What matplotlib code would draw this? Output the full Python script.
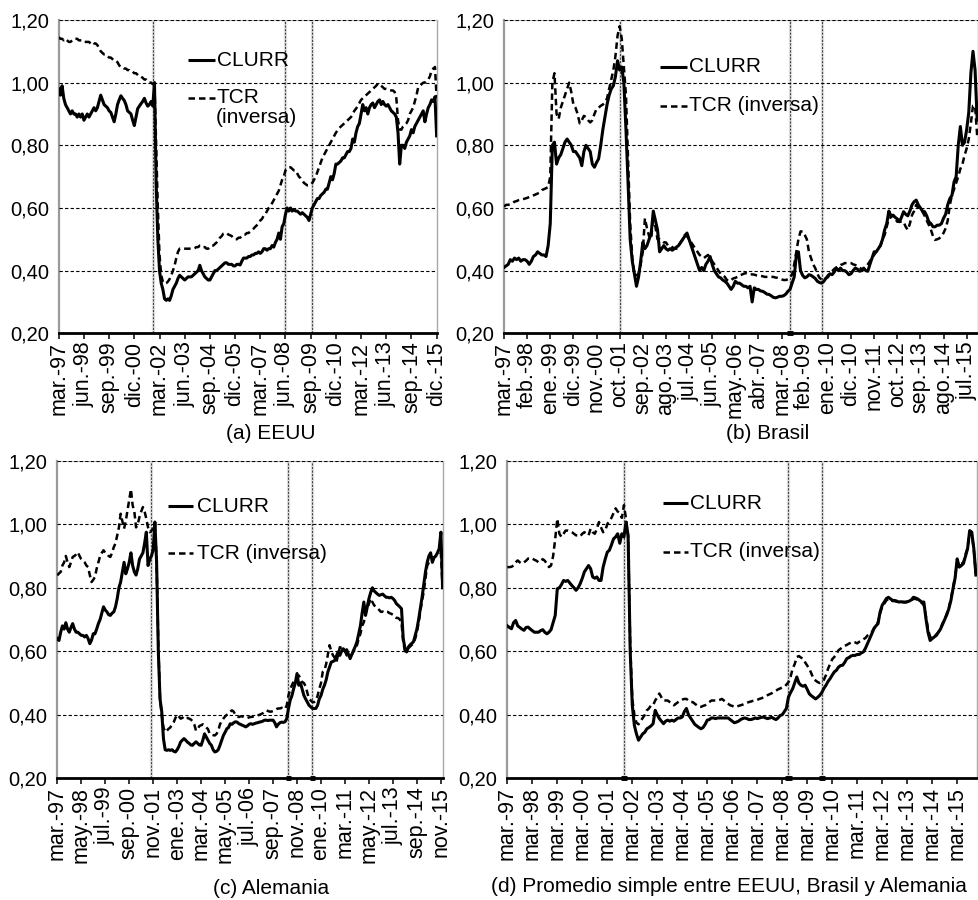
import numpy as np
import matplotlib
matplotlib.use("Agg")
import matplotlib.pyplot as plt

plt.rcParams['font.family'] = ['Liberation Sans', 'DejaVu Sans']

# monthly series, mar-1997 .. dic-2015 (one row per calendar year)
meses = ["ene.", "feb.", "mar.", "abr.", "may.", "jun.",
         "jul.", "ago.", "sep.", "oct.", "nov.", "dic."]
fechas = [f"{meses[(2 + i) % 12]}-{(1997 + (2 + i) // 12) % 100:02d}" for i in range(226)]

eeuu_clurr = [
    0.98, 0.96, 0.99, 0.95, 0.93, 0.92, 0.91, 0.90, 0.91, 0.90,
    0.90, 0.89, 0.90, 0.89, 0.90, 0.88, 0.89, 0.90, 0.89, 0.90, 0.91, 0.92,
    0.91, 0.92, 0.94, 0.96, 0.945, 0.93, 0.925, 0.92, 0.91, 0.905, 0.89, 0.875,
    0.90, 0.93, 0.945, 0.958, 0.95, 0.943, 0.93, 0.91, 0.905, 0.90, 0.88, 0.863,
    0.89, 0.917, 0.925, 0.933, 0.94, 0.95, 0.935, 0.925, 0.93, 0.94, 0.925, 1.00,
    0.68, 0.50, 0.40, 0.36, 0.34, 0.31, 0.305, 0.31, 0.305, 0.32, 0.34, 0.35,
    0.36, 0.375, 0.385, 0.38, 0.375, 0.37, 0.375, 0.38, 0.38, 0.38, 0.385, 0.39,
    0.395, 0.40, 0.417, 0.40, 0.39, 0.38, 0.375, 0.37, 0.37, 0.38, 0.39, 0.40,
    0.40, 0.405, 0.41, 0.415, 0.42, 0.425, 0.425, 0.42, 0.42, 0.42, 0.415, 0.415,
    0.42, 0.42, 0.418, 0.43, 0.44, 0.44, 0.44, 0.445, 0.445, 0.45, 0.45, 0.455,
    0.455, 0.46, 0.455, 0.46, 0.47, 0.47, 0.465, 0.47, 0.47, 0.48, 0.475, 0.49,
    0.50, 0.52, 0.50, 0.54, 0.55, 0.58, 0.60, 0.59, 0.60, 0.59, 0.595, 0.59,
    0.59, 0.585, 0.58, 0.585, 0.58, 0.575, 0.57, 0.56, 0.58, 0.60, 0.61, 0.62,
    0.63, 0.63, 0.64, 0.645, 0.65, 0.66, 0.66, 0.68, 0.70, 0.69, 0.71, 0.74,
    0.74, 0.745, 0.75, 0.76, 0.76, 0.77, 0.78, 0.78, 0.79, 0.82, 0.81, 0.84,
    0.86, 0.87, 0.90, 0.93, 0.91, 0.92, 0.90, 0.92, 0.93, 0.935, 0.92, 0.93,
    0.94, 0.945, 0.93, 0.94, 0.93, 0.925, 0.93, 0.92, 0.91, 0.905, 0.90, 0.89,
    0.84, 0.74, 0.80, 0.80, 0.79, 0.81, 0.82, 0.83, 0.85, 0.84, 0.86, 0.87,
    0.88, 0.89, 0.90, 0.91, 0.875, 0.90, 0.92, 0.93, 0.945, 0.94, 0.955, 0.83,
]
eeuu_tcr = [
    1.145, 1.14, 1.14, 1.135, 1.14, 1.135, 1.13, 1.13, 1.135, 1.14,
    1.14, 1.14, 1.135, 1.135, 1.135, 1.13, 1.13, 1.13, 1.13, 1.125, 1.13, 1.125,
    1.125, 1.12, 1.11, 1.10, 1.095, 1.09, 1.09, 1.085, 1.08, 1.08, 1.075, 1.07,
    1.07, 1.065, 1.055, 1.05, 1.05, 1.045, 1.045, 1.04, 1.04, 1.035, 1.035, 1.03,
    1.03, 1.025, 1.02, 1.02, 1.015, 1.01, 1.01, 1.005, 1.00, 1.00, 0.995, 1.00,
    0.80, 0.60, 0.45, 0.385, 0.365, 0.358, 0.36, 0.365, 0.373, 0.385, 0.40, 0.417,
    0.44, 0.46, 0.47, 0.47, 0.47, 0.47, 0.47, 0.47, 0.47, 0.47, 0.47, 0.472,
    0.475, 0.475, 0.48, 0.48, 0.475, 0.475, 0.47, 0.47, 0.475, 0.48, 0.48, 0.485,
    0.49, 0.497, 0.505, 0.51, 0.518, 0.52, 0.52, 0.515, 0.513, 0.51, 0.505, 0.50,
    0.50, 0.505, 0.505, 0.51, 0.515, 0.515, 0.52, 0.52, 0.525, 0.53, 0.534, 0.54,
    0.545, 0.55, 0.56, 0.565, 0.575, 0.58, 0.59, 0.60, 0.605, 0.615, 0.625, 0.635,
    0.645, 0.655, 0.672, 0.69, 0.70, 0.72, 0.725, 0.73, 0.73, 0.725, 0.72, 0.72,
    0.71, 0.70, 0.695, 0.688, 0.68, 0.676, 0.672, 0.672, 0.675, 0.68, 0.69, 0.70,
    0.715, 0.73, 0.745, 0.76, 0.77, 0.78, 0.79, 0.80, 0.81, 0.82, 0.83, 0.84,
    0.848, 0.855, 0.86, 0.865, 0.87, 0.875, 0.88, 0.885, 0.89, 0.90, 0.91, 0.917,
    0.925, 0.935, 0.945, 0.95, 0.955, 0.96, 0.965, 0.97, 0.975, 0.98, 0.985, 0.99,
    0.997, 0.995, 0.99, 0.985, 0.98, 0.98, 0.978, 0.976, 0.975, 0.975, 0.97, 0.95,
    0.88, 0.85, 0.85, 0.86, 0.865, 0.87, 0.88, 0.90, 0.91, 0.92, 0.94, 0.96,
    0.985, 0.99, 0.995, 1.00, 1.00, 1.005, 1.01, 1.02, 1.04, 1.045, 1.05, 0.95,
]

brasil_clurr = [
    0.41, 0.415, 0.42, 0.435, 0.43, 0.44, 0.435, 0.44, 0.43, 0.435,
    0.435, 0.43, 0.42, 0.43, 0.445, 0.45, 0.46, 0.455, 0.45, 0.45, 0.445, 0.48,
    0.55, 0.80, 0.81, 0.74, 0.76, 0.77, 0.79, 0.81, 0.82, 0.81, 0.80, 0.78,
    0.78, 0.77, 0.76, 0.735, 0.78, 0.80, 0.79, 0.78, 0.74, 0.73, 0.745, 0.757,
    0.80, 0.85, 0.89, 0.93, 0.96, 0.98, 0.99, 1.02, 1.07, 1.04, 1.05, 1.00,
    0.85, 0.68, 0.50, 0.43, 0.39, 0.35, 0.38, 0.43, 0.49, 0.47, 0.48, 0.50,
    0.52, 0.59, 0.56, 0.53, 0.46, 0.47, 0.48, 0.47, 0.465, 0.47, 0.465, 0.47,
    0.475, 0.48, 0.49, 0.50, 0.51, 0.52, 0.50, 0.48, 0.46, 0.44, 0.42, 0.40,
    0.41, 0.40, 0.42, 0.43, 0.445, 0.42, 0.40, 0.39, 0.38, 0.377, 0.37, 0.366,
    0.36, 0.35, 0.34, 0.35, 0.366, 0.36, 0.36, 0.355, 0.35, 0.35, 0.345, 0.35,
    0.30, 0.345, 0.34, 0.34, 0.335, 0.334, 0.33, 0.325, 0.324, 0.32, 0.315, 0.313,
    0.315, 0.318, 0.318, 0.32, 0.325, 0.334, 0.34, 0.36, 0.38, 0.45, 0.46, 0.40,
    0.385, 0.377, 0.38, 0.387, 0.385, 0.38, 0.375, 0.366, 0.362, 0.36, 0.365, 0.375,
    0.38, 0.39, 0.387, 0.395, 0.408, 0.40, 0.408, 0.40, 0.40, 0.395, 0.387, 0.39,
    0.40, 0.408, 0.405, 0.398, 0.40, 0.408, 0.40, 0.398, 0.42, 0.44, 0.46, 0.46,
    0.47, 0.48, 0.50, 0.53, 0.55, 0.59, 0.575, 0.577, 0.57, 0.565, 0.556, 0.57,
    0.588, 0.58, 0.575, 0.59, 0.61, 0.62, 0.625, 0.61, 0.60, 0.59, 0.588, 0.575,
    0.556, 0.55, 0.54, 0.54, 0.545, 0.545, 0.55, 0.567, 0.58, 0.61, 0.63, 0.64,
    0.683, 0.70, 0.80, 0.86, 0.80, 0.81, 0.85, 0.905, 1.03, 1.10, 1.04, 0.88,
]
brasil_tcr = [
    0.604, 0.61, 0.61, 0.612, 0.615, 0.62, 0.622, 0.625, 0.627, 0.628,
    0.63, 0.632, 0.635, 0.637, 0.64, 0.643, 0.646, 0.65, 0.657, 0.66, 0.663, 0.667,
    0.70, 1.00, 1.03, 0.90, 0.884, 0.92, 0.94, 0.96, 0.98, 1.00, 0.97, 0.93,
    0.92, 0.90, 0.87, 0.88, 0.894, 0.89, 0.88, 0.873, 0.88, 0.90, 0.916, 0.92,
    0.926, 0.93, 0.937, 0.95, 0.98, 1.01, 1.04, 1.085, 1.15, 1.18, 1.14, 1.05,
    0.96, 0.75, 0.55, 0.44, 0.39, 0.385, 0.39, 0.42, 0.46, 0.567, 0.535, 0.51,
    0.50, 0.577, 0.54, 0.50, 0.50, 0.495, 0.49, 0.49, 0.48, 0.48, 0.475, 0.47,
    0.47, 0.48, 0.49, 0.50, 0.514, 0.51, 0.50, 0.49, 0.48, 0.47, 0.46, 0.45,
    0.445, 0.44, 0.445, 0.45, 0.44, 0.43, 0.42, 0.41, 0.40, 0.39, 0.385, 0.38,
    0.37, 0.366, 0.37, 0.375, 0.377, 0.38, 0.385, 0.387, 0.39, 0.392, 0.39, 0.388,
    0.388, 0.387, 0.385, 0.384, 0.383, 0.382, 0.38, 0.38, 0.38, 0.38, 0.38, 0.378,
    0.377, 0.375, 0.372, 0.37, 0.37, 0.372, 0.38, 0.387, 0.42, 0.46, 0.50, 0.525,
    0.525, 0.514, 0.50, 0.46, 0.44, 0.42, 0.408, 0.39, 0.377, 0.372, 0.37, 0.375,
    0.385, 0.39, 0.398, 0.405, 0.41, 0.413, 0.418, 0.42, 0.424, 0.424, 0.425, 0.424,
    0.42, 0.418, 0.415, 0.41, 0.405, 0.403, 0.41, 0.42, 0.43, 0.44, 0.45, 0.46,
    0.472, 0.48, 0.50, 0.514, 0.54, 0.567, 0.57, 0.577, 0.565, 0.556, 0.556, 0.556,
    0.556, 0.54, 0.53, 0.55, 0.577, 0.59, 0.61, 0.60, 0.595, 0.588, 0.575, 0.56,
    0.546, 0.53, 0.51, 0.498, 0.50, 0.503, 0.51, 0.52, 0.535, 0.56, 0.61, 0.64,
    0.66, 0.68, 0.70, 0.725, 0.74, 0.768, 0.79, 0.82, 0.87, 0.926, 0.926, 0.83,
]

alemania_clurr = [
    0.64, 0.634, 0.66, 0.68, 0.67, 0.69, 0.67, 0.66, 0.675, 0.687,
    0.67, 0.66, 0.66, 0.655, 0.65, 0.65, 0.645, 0.65, 0.64, 0.624, 0.635, 0.655,
    0.655, 0.67, 0.687, 0.70, 0.72, 0.74, 0.73, 0.724, 0.715, 0.713, 0.72, 0.724,
    0.74, 0.766, 0.80, 0.818, 0.85, 0.88, 0.844, 0.86, 0.88, 0.91, 0.87, 0.85,
    0.84, 0.86, 0.89, 0.90, 0.91, 0.94, 0.975, 0.87, 0.89, 0.90, 0.92, 1.007,
    0.88, 0.60, 0.45, 0.41, 0.325, 0.29, 0.288, 0.29, 0.288, 0.29, 0.285, 0.283,
    0.29, 0.30, 0.314, 0.32, 0.325, 0.32, 0.314, 0.31, 0.305, 0.304, 0.31, 0.315,
    0.31, 0.305, 0.304, 0.32, 0.34, 0.33, 0.32, 0.31, 0.304, 0.29, 0.283, 0.285,
    0.29, 0.304, 0.32, 0.335, 0.345, 0.356, 0.36, 0.372, 0.37, 0.375, 0.378, 0.377,
    0.372, 0.37, 0.367, 0.365, 0.362, 0.365, 0.37, 0.372, 0.37, 0.372, 0.374, 0.375,
    0.377, 0.378, 0.38, 0.383, 0.383, 0.382, 0.383, 0.383, 0.383, 0.375, 0.362, 0.37,
    0.375, 0.377, 0.376, 0.378, 0.388, 0.42, 0.446, 0.46, 0.482, 0.50, 0.53, 0.493,
    0.50, 0.48, 0.461, 0.45, 0.44, 0.43, 0.425, 0.42, 0.42, 0.42, 0.43, 0.45,
    0.461, 0.48, 0.493, 0.51, 0.535, 0.55, 0.566, 0.568, 0.571, 0.585, 0.598, 0.587,
    0.60, 0.608, 0.60, 0.605, 0.59, 0.577, 0.59, 0.603, 0.615, 0.63, 0.655, 0.68,
    0.72, 0.755, 0.713, 0.74, 0.766, 0.785, 0.80, 0.79, 0.785, 0.78, 0.776, 0.778,
    0.78, 0.775, 0.77, 0.77, 0.768, 0.77, 0.766, 0.76, 0.75, 0.745, 0.74, 0.734,
    0.64, 0.61, 0.598, 0.613, 0.62, 0.625, 0.63, 0.65, 0.67, 0.70, 0.734, 0.77,
    0.81, 0.85, 0.88, 0.90, 0.91, 0.88, 0.895, 0.90, 0.91, 0.923, 0.975, 0.80,
]
alemania_tcr = [
    0.839, 0.845, 0.85, 0.87, 0.88, 0.90, 0.88, 0.865, 0.88, 0.897,
    0.90, 0.905, 0.912, 0.90, 0.89, 0.885, 0.88, 0.87, 0.865, 0.84, 0.818, 0.825,
    0.834, 0.86, 0.88, 0.90, 0.91, 0.918, 0.91, 0.907, 0.90, 0.897, 0.91, 0.928,
    0.94, 0.965, 0.99, 1.033, 1.01, 0.986, 1.01, 1.044, 1.08, 1.11, 1.06, 1.04,
    0.99, 1.00, 1.023, 1.04, 1.054, 1.04, 1.017, 0.99, 0.975, 0.98, 0.985, 1.00,
    0.88, 0.62, 0.45, 0.40, 0.36, 0.346, 0.35, 0.356, 0.36, 0.37, 0.377, 0.39,
    0.40, 0.395, 0.388, 0.39, 0.395, 0.39, 0.39, 0.388, 0.385, 0.38, 0.37, 0.35,
    0.355, 0.365, 0.367, 0.37, 0.365, 0.36, 0.355, 0.34, 0.338, 0.336, 0.335, 0.34,
    0.35, 0.37, 0.38, 0.388, 0.395, 0.40, 0.404, 0.41, 0.414, 0.41, 0.40, 0.395,
    0.393, 0.395, 0.395, 0.393, 0.392, 0.39, 0.392, 0.393, 0.394, 0.395, 0.396, 0.398,
    0.40, 0.402, 0.405, 0.41, 0.414, 0.412, 0.41, 0.41, 0.412, 0.415, 0.418, 0.42,
    0.42, 0.422, 0.42, 0.418, 0.43, 0.461, 0.48, 0.493, 0.505, 0.514, 0.52, 0.524,
    0.515, 0.503, 0.50, 0.49, 0.47, 0.45, 0.445, 0.44, 0.44, 0.445, 0.46, 0.482,
    0.50, 0.535, 0.54, 0.56, 0.59, 0.619, 0.60, 0.587, 0.58, 0.566, 0.59, 0.613,
    0.61, 0.61, 0.60, 0.587, 0.585, 0.585, 0.59, 0.60, 0.61, 0.619, 0.64, 0.655,
    0.68, 0.692, 0.72, 0.734, 0.75, 0.766, 0.755, 0.745, 0.74, 0.735, 0.73, 0.724,
    0.725, 0.722, 0.725, 0.724, 0.72, 0.718, 0.715, 0.708, 0.705, 0.705, 0.70, 0.69,
    0.63, 0.60, 0.60, 0.61, 0.615, 0.62, 0.625, 0.64, 0.66, 0.69, 0.724, 0.76,
    0.787, 0.83, 0.87, 0.88, 0.885, 0.89, 0.895, 0.90, 0.907, 0.91, 0.91, 0.80,
]

promedio_clurr = [
    0.68, 0.675, 0.671, 0.69, 0.697, 0.68, 0.675, 0.67, 0.666, 0.675,
    0.676, 0.67, 0.665, 0.66, 0.66, 0.66, 0.665, 0.668, 0.66, 0.655, 0.66, 0.668,
    0.69, 0.713, 0.797, 0.80, 0.81, 0.823, 0.82, 0.823, 0.815, 0.807, 0.80, 0.792,
    0.80, 0.813, 0.83, 0.85, 0.86, 0.87, 0.86, 0.834, 0.83, 0.834, 0.823, 0.823,
    0.865, 0.89, 0.912, 0.918, 0.935, 0.954, 0.96, 0.97, 0.94, 0.97, 0.96, 1.007,
    0.965, 0.60, 0.43, 0.367, 0.34, 0.32, 0.33, 0.34, 0.345, 0.356, 0.36, 0.365,
    0.372, 0.414, 0.40, 0.388, 0.38, 0.372, 0.38, 0.383, 0.38, 0.383, 0.38, 0.385,
    0.39, 0.39, 0.393, 0.41, 0.42, 0.40, 0.39, 0.38, 0.37, 0.365, 0.36, 0.356,
    0.36, 0.37, 0.383, 0.385, 0.39, 0.39, 0.388, 0.39, 0.39, 0.39, 0.39, 0.39,
    0.39, 0.385, 0.38, 0.375, 0.377, 0.38, 0.385, 0.388, 0.39, 0.388, 0.385, 0.385,
    0.387, 0.39, 0.388, 0.39, 0.392, 0.393, 0.39, 0.388, 0.39, 0.392, 0.388, 0.385,
    0.39, 0.398, 0.40, 0.41, 0.42, 0.456, 0.47, 0.482, 0.50, 0.519, 0.50, 0.493,
    0.49, 0.493, 0.48, 0.466, 0.46, 0.455, 0.45, 0.455, 0.461, 0.47, 0.483, 0.493,
    0.505, 0.514, 0.525, 0.535, 0.54, 0.55, 0.555, 0.556, 0.565, 0.577, 0.58, 0.585,
    0.587, 0.587, 0.59, 0.59, 0.595, 0.598, 0.61, 0.625, 0.64, 0.655, 0.671, 0.68,
    0.687, 0.724, 0.745, 0.755, 0.766, 0.77, 0.765, 0.76, 0.76, 0.758, 0.755, 0.756,
    0.755, 0.755, 0.756, 0.758, 0.762, 0.77, 0.768, 0.765, 0.76, 0.755, 0.755, 0.703,
    0.66, 0.634, 0.64, 0.645, 0.65, 0.66, 0.67, 0.685, 0.70, 0.715, 0.734, 0.76,
    0.797, 0.83, 0.891, 0.865, 0.87, 0.876, 0.90, 0.923, 0.98, 0.975, 0.923, 0.84,
]
promedio_tcr = [
    0.865, 0.865, 0.866, 0.87, 0.88, 0.886, 0.88, 0.876, 0.88, 0.885,
    0.892, 0.89, 0.892, 0.888, 0.885, 0.88, 0.885, 0.89, 0.885, 0.875, 0.865, 0.87,
    0.90, 0.954, 1.017, 0.97, 0.96, 0.97, 0.98, 0.98, 0.978, 0.975, 0.97, 0.965,
    0.965, 0.962, 0.97, 0.975, 0.97, 0.965, 0.986, 0.975, 0.97, 0.985, 1.007, 0.99,
    0.975, 0.98, 1.00, 1.01, 1.02, 1.035, 1.05, 1.04, 1.035, 1.02, 1.06, 1.017,
    0.96, 0.62, 0.45, 0.40, 0.375, 0.37, 0.38, 0.39, 0.40, 0.414, 0.42, 0.43,
    0.43, 0.445, 0.455, 0.467, 0.455, 0.445, 0.445, 0.445, 0.44, 0.435, 0.43, 0.435,
    0.44, 0.445, 0.448, 0.45, 0.45, 0.445, 0.44, 0.44, 0.435, 0.43, 0.425, 0.425,
    0.428, 0.43, 0.435, 0.44, 0.445, 0.445, 0.445, 0.445, 0.447, 0.45, 0.445, 0.44,
    0.435, 0.43, 0.428, 0.425, 0.425, 0.428, 0.43, 0.432, 0.435, 0.438, 0.44, 0.442,
    0.444, 0.445, 0.447, 0.45, 0.452, 0.455, 0.458, 0.462, 0.465, 0.468, 0.472, 0.476,
    0.48, 0.483, 0.486, 0.488, 0.495, 0.503, 0.52, 0.545, 0.56, 0.582, 0.585, 0.58,
    0.577, 0.565, 0.555, 0.545, 0.53, 0.514, 0.508, 0.503, 0.50, 0.503, 0.51, 0.525,
    0.545, 0.56, 0.575, 0.582, 0.59, 0.603, 0.608, 0.613, 0.617, 0.62, 0.624, 0.627,
    0.63, 0.628, 0.625, 0.63, 0.634, 0.638, 0.642, 0.65, 0.655, 0.66, 0.671, 0.682,
    0.692, 0.72, 0.74, 0.75, 0.76, 0.765, 0.762, 0.758, 0.758, 0.756, 0.755, 0.755,
    0.755, 0.754, 0.755, 0.757, 0.76, 0.765, 0.765, 0.762, 0.758, 0.752, 0.745, 0.71,
    0.67, 0.645, 0.645, 0.648, 0.653, 0.66, 0.672, 0.688, 0.70, 0.718, 0.738, 0.765,
    0.80, 0.835, 0.88, 0.87, 0.875, 0.88, 0.905, 0.925, 0.975, 0.97, 0.92, 0.84,
]

# vertical reference months for each panel
crisis_a = ["nov.-01", "jun.-08", "oct.-09"]
crisis_b = ["oct.-01", "jul.-08", "oct.-09"]
crisis_c = ["oct.-01", "jun.-08", "ago.-09"]
crisis_d = ["nov.-01", "jun.-08", "oct.-09"]

titulos = ["(a) EEUU", "(b) Brasil", "(c) Alemania",
           "(d) Promedio simple entre EEUU, Brasil y Alemania"]
yticks = [0.2, 0.4, 0.6, 0.8, 1.0, 1.2]

TCR_DASH = (0, (2.6, 1.6))


def panel(ax, clurr, tcr, paso, crisis, marcas, ley, tcr_texto):
    x = np.arange(len(clurr))
    for c in crisis:
        i = fechas.index(c)
        ax.axvline(i, color="#e2e2e2", lw=2.4, zorder=1)
        ax.axvline(i, color="#444444", lw=0.8, ls=(0, (2.0, 1.2)), zorder=1.5)
    for c in marcas:
        i = fechas.index(c)
        ax.plot([i - 1.5, i + 1.5], [0.2, 0.2], color="black", lw=3.5,
                solid_capstyle="butt", clip_on=False, zorder=5)
    ax.plot(x, tcr, color="black", lw=1.8, ls=TCR_DASH, zorder=3)
    ax.plot(x, clurr, color="black", lw=2.2, zorder=4)

    ax.set_xlim(0, 225.4)
    ax.set_ylim(0.2, 1.2)
    ax.set_yticks(yticks)
    ax.set_yticklabels([f"{v:.2f}".replace(".", ",") for v in yticks], fontsize=14.5)
    ax.tick_params(axis="y", length=0, pad=7)
    pos = list(range(0, len(clurr), paso))
    ax.set_xticks(pos)
    ax.set_xticklabels([fechas[p] for p in pos], rotation=90, fontsize=15.5)
    ax.tick_params(axis="x", direction="out", length=4, width=1.1, pad=2)

    ax.grid(axis="y", color="black", lw=0.8, ls=(0, (3, 2)), zorder=2)
    ax.set_axisbelow(False)
    ax.spines["left"].set_color("#9a9a9a")
    ax.spines["left"].set_linewidth(1.6)
    ax.spines["right"].set_color("#a8a8a8")
    ax.spines["right"].set_linewidth(1.0)
    ax.spines["top"].set_color("#bbbbbb")
    ax.spines["top"].set_linewidth(0.8)
    ax.spines["bottom"].set_color("black")
    ax.spines["bottom"].set_linewidth(2.0)

    # key drawn inside the plot area
    x0, x1, xt, yc, yt = ley
    ax.plot([x0, x1], [yc, yc], transform=ax.transAxes, color="black", lw=2.2,
            solid_capstyle="butt")
    ax.text(xt, yc, "CLURR", transform=ax.transAxes, ha="left", va="center", fontsize=15)
    ax.plot([x0, x1], [yt, yt], transform=ax.transAxes, color="black", lw=1.8,
            ls=TCR_DASH)
    lineas = tcr_texto.split("\n")
    ax.text(xt, yt, lineas[0], transform=ax.transAxes, ha="left", va="center", fontsize=15)
    if len(lineas) > 1:
        ax.text(xt - 0.003, yt - 0.061, lineas[1], transform=ax.transAxes,
                ha="left", va="center", fontsize=15)


fig = plt.figure(figsize=(9.79, 9.0), dpi=100)
ax_a = fig.add_axes([0.060, 0.6297, 0.3867, 0.3481])
ax_b = fig.add_axes([0.5148, 0.6297, 0.4842, 0.3481])
ax_c = fig.add_axes([0.0585, 0.1352, 0.3943, 0.3529])
ax_d = fig.add_axes([0.5182, 0.1352, 0.4795, 0.3529])

panel(ax_a, eeuu_clurr, eeuu_tcr, 15, crisis_a, [],
      (0.3415, 0.4128, 0.418, 0.872, 0.751), "TCR\n(inversa)")
panel(ax_b, brasil_clurr, brasil_tcr, 11, crisis_b, ["jul.-08"],
      (0.329, 0.3854, 0.390, 0.851, 0.7255), "TCR (inversa)")
panel(ax_c, alemania_clurr, alemania_tcr, 14, crisis_c, ["jun.-08", "ago.-09"],
      (0.287, 0.3516, 0.361, 0.857, 0.7085), "TCR (inversa)")
panel(ax_d, promedio_clurr, promedio_tcr, 12, crisis_d, crisis_d,
      (0.332, 0.3856, 0.389, 0.866, 0.7135), "TCR (inversa)")

fig.text(0.2768, 0.518, titulos[0], ha="center", va="center", fontsize=15)
fig.text(0.784, 0.518, titulos[1], ha="center", va="center", fontsize=15)
fig.text(0.2768, 0.0133, titulos[2], ha="center", va="center", fontsize=15)
fig.text(0.7446, 0.0148, titulos[3], ha="center", va="center", fontsize=15)

fig.savefig("out.png", dpi=100)
